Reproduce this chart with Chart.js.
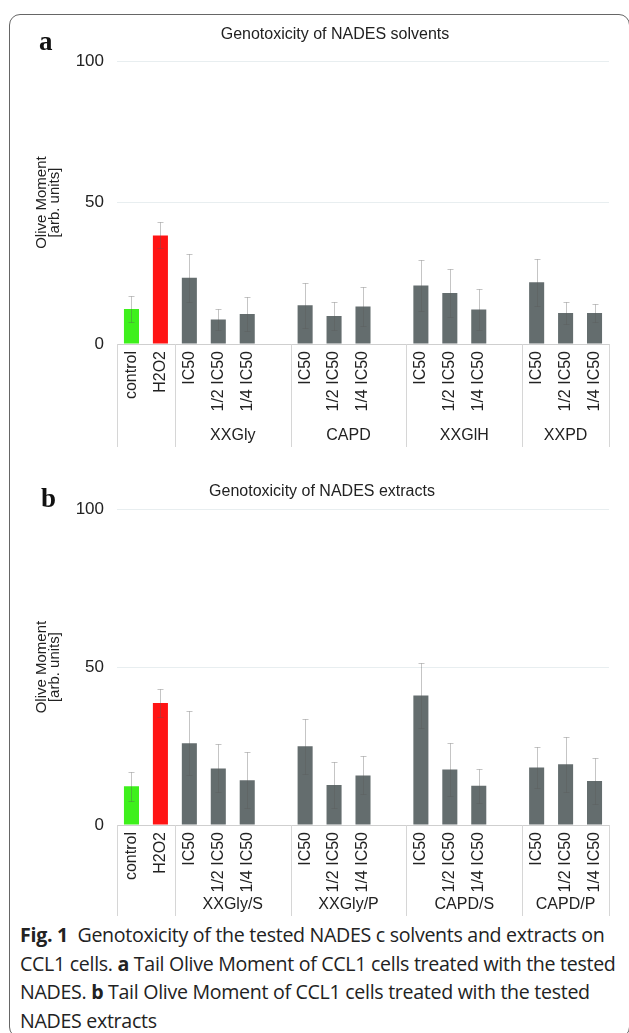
<!DOCTYPE html>
<html>
<head>
<meta charset="utf-8">
<script src="https://cdn.jsdelivr.net/npm/chart.js@4.4.1/dist/chart.umd.min.js"></script>
<style>
  html,body{margin:0;padding:0;background:#fff;}
  body{width:629px;height:1033px;overflow:hidden;position:relative;}
  .frame{position:absolute;left:9px;top:14px;width:619px;height:1022px;border:1.5px solid #666;border-radius:11px;}
  canvas{position:absolute;left:0;}
  #chartA{top:0;}
  #chartB{top:455px;}
  .tag{position:absolute;font-family:'Liberation Serif','DejaVu Serif',serif;font-weight:bold;font-size:27px;color:#111;line-height:1;}
  .caption{position:absolute;left:20px;top:921px;font-family:'Open Sans','Noto Sans',sans-serif;font-size:19.6px;line-height:28.5px;color:#222;white-space:nowrap;letter-spacing:-0.3px;}
  .caption b{font-weight:bold;}
</style>
</head>
<body>
<div class="frame"></div>
<canvas id="chartA" width="670" height="452"></canvas>
<canvas id="chartB" width="644" height="465"></canvas>
<div class="tag" style="left:39px;top:28px;">a</div>
<div class="tag" style="left:41px;top:485px;">b</div>
<div class="caption">
  <div><b>Fig. 1</b>&nbsp; Genotoxicity of the tested NADES c solvents and extracts on</div>
  <div>CCL1 cells. <b>a</b> Tail Olive Moment of CCL1 cells treated with the tested</div>
  <div>NADES. <b>b</b> Tail Olive Moment of CCL1 cells treated with the tested</div>
  <div>NADES extracts</div>
</div>
<script>
// Data
const categories=['control','H2O2','IC50','1/2 IC50','1/4 IC50','','IC50','1/2 IC50','1/4 IC50','','IC50','1/2 IC50','1/4 IC50','','IC50','1/2 IC50','1/4 IC50'];
const yTicks=[0,50,100];

const titleA='Genotoxicity of NADES solvents';
const groupsA=['XXGly','CAPD','XXGlH','XXPD'];
const valuesA=[12.4,38.4,23.4,8.7,10.6,null,13.7,9.9,13.3,null,20.7,18.0,12.2,null,21.8,11.0,11.0];
const errorsA=[4.6,4.6,8.6,3.7,6.1,null,8.0,4.9,6.8,null,9.1,8.4,7.2,null,8.4,3.8,3.1];

const titleB='Genotoxicity of NADES extracts';
const groupsB=['XXGly/S','XXGly/P','CAPD/S','CAPD/P'];
const valuesB=[12.3,38.6,25.9,17.9,14.2,null,24.9,12.7,15.7,null,41.0,17.6,12.4,null,18.2,19.2,13.9];
const errorsB=[4.6,4.4,10.1,7.6,8.9,null,8.6,7.3,6.0,null,10.4,8.5,5.4,null,6.6,8.7,7.3];

Chart.defaults.font.family="'Liberation Sans', Arial, sans-serif";
Chart.defaults.color='#222';

// error bars + grouped axis (separators and group names)
const extras={
  id:'extras',
  afterDatasetsDraw(chart,args,opts){
    const {ctx,scales:{x,y}}=chart;
    const vals=chart.data.datasets[0].data;
    ctx.save();
    ctx.strokeStyle='rgba(90,90,90,0.35)';
    ctx.lineWidth=1;
    vals.forEach((v,i)=>{
      if(v==null) return;
      const e=opts.errors[i];
      const px=Math.round(x.getPixelForValue(i))+0.5;
      const t=Math.round(y.getPixelForValue(v+e))+0.5, b=Math.round(y.getPixelForValue(v-e))+0.5;
      ctx.beginPath();
      ctx.moveTo(px,t);ctx.lineTo(px,b);
      ctx.moveTo(px-3,t);ctx.lineTo(px+3,t);
      ctx.moveTo(px-3,b);ctx.lineTo(px+3,b);
      ctx.stroke();
    });
    ctx.restore();
  },
  afterDraw(chart,args,opts){
    const {ctx,scales:{x},chartArea}=chart;
    const labels=chart.data.labels;
    const bounds=[-0.5];
    labels.forEach((l,i)=>{ if(l==='IC50') bounds.push(i-0.5); });
    bounds.push(labels.length-0.5);
    ctx.save();
    ctx.strokeStyle='#d6d6d6';
    ctx.lineWidth=1;
    bounds.forEach(b=>{
      const px=Math.round(x.getPixelForValue(b))+0.5;
      ctx.beginPath();ctx.moveTo(px,chartArea.bottom);ctx.lineTo(px,chartArea.bottom+opts.sepLength);ctx.stroke();
    });
    ctx.fillStyle='#222';
    ctx.font="16px 'Liberation Sans', Arial, sans-serif";
    ctx.textAlign='center';ctx.textBaseline='middle';
    opts.groups.forEach((g,k)=>{
      const c=(x.getPixelForValue(bounds[k+1])+x.getPixelForValue(bounds[k+2]))/2;
      ctx.fillText(g,c,chartArea.bottom+opts.labelOffset);
    });
    ctx.restore();
  }
};

function makeChart(id,title,values,errors,groups,cfg){
  return new Chart(document.getElementById(id),{
    type:'bar',
    data:{labels:categories,datasets:[{
      data:values,
      backgroundColor:c=>c.dataIndex===0?'#3ef01c':c.dataIndex===1?'#ff1414':'#646d6e',
      categoryPercentage:1,barPercentage:0.52
    }]},
    options:{
      responsive:false,animation:false,
      layout:{padding:0},
      plugins:{
        legend:{display:false},tooltip:{enabled:false},
        title:{display:true,text:title,font:{size:16,weight:'normal'},color:'#222',padding:{top:cfg.titleTop,bottom:cfg.titleBottom}},
        extras:{errors,groups,sepLength:cfg.sepLength,labelOffset:cfg.labelOffset}
      },
      scales:{
        x:{
          grid:{display:false,drawTicks:false},border:{display:false},
          ticks:{minRotation:90,maxRotation:90,autoSkip:false,padding:7,font:{size:16},color:'#222'},
          afterFit:s=>{s.height=cfg.xHeight;}
        },
        y:{
          min:0,max:100,
          afterBuildTicks:s=>{s.ticks=yTicks.map(v=>({value:v}));},
          grid:{drawTicks:false,color:c=>c.tick&&c.tick.value===0?'#cfcfcf':'#e8eef0'},
          border:{display:false},
          ticks:{padding:13,font:{size:17},color:'#222'},
          title:{display:true,text:['Olive Moment','[arb. units]'],font:{size:15,lineHeight:0.87},color:'#222',padding:{top:35,bottom:0}},
          afterFit:s=>{s.width=117;}
        },
        yr:{
          position:'right',display:true,
          grid:{display:false},border:{display:false},ticks:{display:false},
          afterFit:s=>{s.width=cfg.rightWidth;}
        }
      }
    },
    plugins:[extras]
  });
}

makeChart('chartA',titleA,valuesA,errorsA,groupsA,{titleTop:25,titleBottom:17,xHeight:108,sepLength:103,labelOffset:92,rightWidth:61});
makeChart('chartB',titleB,valuesB,errorsB,groupsB,{titleTop:27,titleBottom:8,xHeight:95,sepLength:91,labelOffset:80,rightWidth:35});
</script>
</body>
</html>
